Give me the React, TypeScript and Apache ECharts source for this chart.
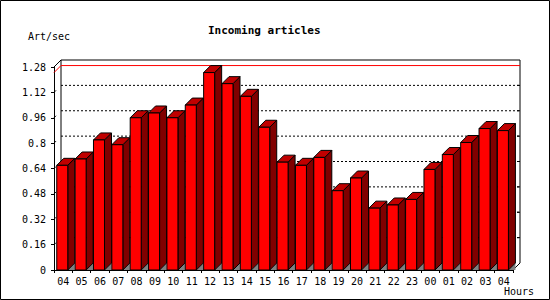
import React, { useEffect, useRef } from "react";
import * as echarts from "echarts";

const hours = ["04","05","06","07","08","09","10","11","12","13","14","15","16","17","18","19","20","21","22","23","00","01","02","03","04"];
const rates = [0.66,0.70,0.82,0.79,0.96,0.99,0.96,1.04,1.245,1.175,1.095,0.90,0.68,0.66,0.71,0.50,0.58,0.39,0.41,0.445,0.634,0.728,0.804,0.892,0.879];
const yTicks = [0.16,0.32,0.48,0.64,0.8,0.96,1.12];
const yMax = 1.28;
const yStep = 0.16;

const MONO = "DejaVu Sans Mono";
const DEPTH = 7;

export default function App() {
  const ref = useRef<HTMLDivElement>(null);
  useEffect(() => {
    if (!ref.current) return;
    const chart = echarts.init(ref.current, null, { renderer: "svg" });
    const maxVal = Math.max(...rates);
    const option: any = {
      animation: false,
      backgroundColor: "#ffffff",
      title: {
        text: "Incoming articles",
        left: 203,
        top: 20,
        textStyle: { fontFamily: MONO, fontSize: 11, fontWeight: "bold", color: "#000" },
      },
      grid: { left: 54, right: 37, top: 67, bottom: 30, containLabel: false },
      xAxis: {
        type: "category",
        data: hours,
        boundaryGap: true,
        axisLine: { show: true, lineStyle: { color: "#000", width: 1 } },
        axisTick: { show: true, length: 3, lineStyle: { color: "#000" } },
        axisLabel: { fontFamily: MONO, fontSize: 10, color: "#000", margin: 6, interval: 0 },
        splitLine: { show: false },
      },
      yAxis: {
        type: "value",
        min: 0,
        max: yMax,
        interval: yStep,
        axisLine: { show: true, lineStyle: { color: "#000", width: 1 } },
        axisTick: { show: true, length: 3, lineStyle: { color: "#000" } },
        axisLabel: { fontFamily: MONO, fontSize: 10, color: "#000", margin: 8 },
        splitLine: { show: false },
      },
      graphic: [
        { type: "rect", shape: { x: 0.5, y: 0.5, width: 549, height: 299 }, style: { fill: "none", stroke: "#000", lineWidth: 1 }, silent: true },
        { type: "text", left: 28, top: 31, style: { text: "Art/sec", fontFamily: MONO, fontSize: 10, fill: "#000" } },
        { type: "text", left: 504, top: 286, style: { text: "Hours", fontFamily: MONO, fontSize: 10, fill: "#000" } },
      ],
      series: [
        {
          type: "custom",
          name: "wall",
          z: 1,
          silent: true,
          data: [[0, 0]],
          renderItem: (params: any, api: any) => {
            const cs = params.coordSys;
            const L = cs.x, T = cs.y, R = cs.x + cs.width, B = cs.y + cs.height;
            const d = DEPTH;
            const children: any[] = [];
            const line = (x1: number, y1: number, x2: number, y2: number, style: any) => ({
              type: "line", shape: { x1, y1, x2, y2 }, style,
            });
            const black = { stroke: "#000", lineWidth: 1 };
            yTicks.forEach((t) => {
              const y = api.coord([0, t])[1];
              children.push(line(L + d, y - d, R + d, y - d, { stroke: "#000", lineWidth: 1, lineDash: [2, 2] }));
              children.push(line(R + d - 3, y - d, R + d, y - d, black));
              children.push(line(L, y, L + 2, y - 2, black));
            });
            children.push({
              type: "polyline",
              shape: { points: [[L + d, B - d], [L + d, T - d], [R + d, T - d], [R + d, B - d], [R, B]] },
              style: { fill: "none", stroke: "#000", lineWidth: 1 },
            });
            children.push(line(L, T, L + d, T - d, black));
            const ym = api.coord([0, maxVal])[1];
            children.push({
              type: "polyline",
              shape: { points: [[L, ym], [L + d, ym - d], [R + d, ym - d]] },
              style: { fill: "none", stroke: "#ff0000", lineWidth: 1 },
            });
            return { type: "group", children };
          },
        },
        {
          type: "custom",
          name: "Art/sec",
          z: 2,
          data: rates.map((v, i) => [i, v]),
          encode: { x: 0, y: 1 },
          renderItem: (params: any, api: any) => {
            const idx = api.value(0);
            const v = api.value(1);
            const top = api.coord([idx, v]);
            const base = api.coord([idx, 0]);
            const bw = api.size([1, 0])[0];
            const d = DEPTH;
            const x0 = top[0] - bw * 0.35;
            const x1 = x0 + bw * 0.6;
            const yt = top[1];
            const yb = base[1];
            const edge = { stroke: "#000", lineWidth: 1 };
            return {
              type: "group",
              children: [
                { type: "polygon", shape: { points: [[x1, yb], [x1 + d, yb - d], [x1 + d, yb]] }, style: { fill: "#808080", stroke: "none" } },
                { type: "polygon", shape: { points: [[x1, yt], [x1 + d, yt - d], [x1 + d, yb - d], [x1, yb]] }, style: { fill: "#800000", ...edge } },
                { type: "polygon", shape: { points: [[x0, yt], [x0 + d, yt - d], [x1 + d, yt - d], [x1, yt]] }, style: { fill: "#c00000", ...edge } },
                { type: "rect", shape: { x: x0, y: yt, width: x1 - x0, height: yb - yt }, style: { fill: "#ff0000", ...edge } },
              ],
            };
          },
        },
      ],
    };
    chart.setOption(option);
    return () => chart.dispose();
  }, []);
  return <div ref={ref} style={{ position: "absolute", left: 0, top: 0, width: 550, height: 300 }} />;
}
